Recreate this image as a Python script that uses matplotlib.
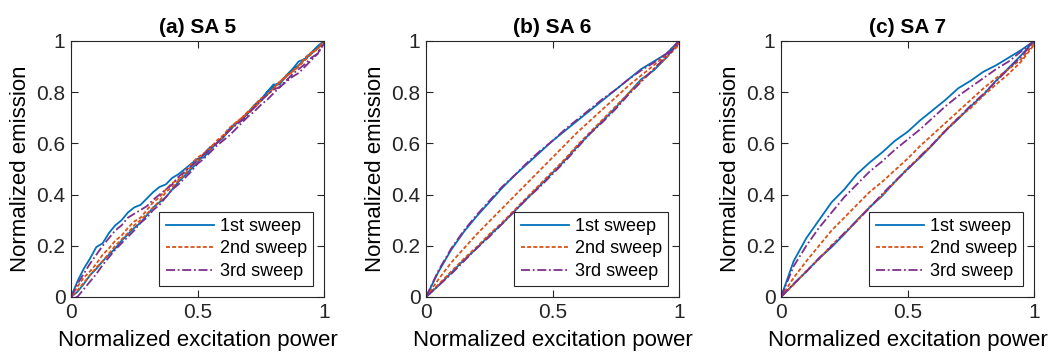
import matplotlib
matplotlib.use("Agg")
import matplotlib.pyplot as plt

plt.rcParams["font.family"] = ["Liberation Sans", "DejaVu Sans"]

titles = ["(a) SA 5", "(b) SA 6", "(c) SA 7"]
sweep_labels = ["1st sweep", "2nd sweep", "3rd sweep"]

# (a) SA 5 is noisy, read on a finer power grid
xa = [0.000, 0.025, 0.050, 0.075, 0.100, 0.125, 0.150, 0.175, 0.200, 0.225,
      0.250, 0.275, 0.300, 0.325, 0.350, 0.375, 0.400, 0.425, 0.450, 0.475,
      0.500, 0.525, 0.550, 0.575, 0.600, 0.625, 0.650, 0.675, 0.700, 0.725,
      0.750, 0.775, 0.800, 0.825, 0.850, 0.875, 0.900, 0.925, 0.950, 0.975, 1.000]
a1_up = [0.00, 0.06, 0.11, 0.15, 0.195, 0.21, 0.25, 0.28, 0.30, 0.33,
         0.35, 0.36, 0.385, 0.41, 0.43, 0.44, 0.465, 0.48, 0.50, 0.52,
         0.54, 0.545, 0.575, 0.60, 0.625, 0.65, 0.675, 0.69, 0.72, 0.75,
         0.77, 0.80, 0.83, 0.83, 0.865, 0.89, 0.92, 0.93, 0.955, 0.98, 1.00]
a1_dn = [0.00, 0.02, 0.05, 0.085, 0.11, 0.14, 0.165, 0.19, 0.22, 0.245,
         0.27, 0.29, 0.32, 0.35, 0.37, 0.39, 0.42, 0.45, 0.475, 0.50,
         0.525, 0.56, 0.585, 0.60, 0.62, 0.655, 0.68, 0.695, 0.72, 0.745,
         0.77, 0.80, 0.82, 0.84, 0.86, 0.885, 0.905, 0.93, 0.95, 0.975, 1.00]
a2_up = [0.00, 0.04, 0.075, 0.10, 0.13, 0.165, 0.19, 0.22, 0.24, 0.27,
         0.295, 0.31, 0.34, 0.37, 0.39, 0.42, 0.445, 0.46, 0.49, 0.52,
         0.545, 0.56, 0.58, 0.61, 0.63, 0.66, 0.68, 0.70, 0.72, 0.75,
         0.775, 0.79, 0.815, 0.84, 0.86, 0.88, 0.905, 0.935, 0.955, 0.97, 1.00]
a2_dn = [0.00, 0.025, 0.055, 0.085, 0.115, 0.14, 0.17, 0.20, 0.225, 0.25,
         0.28, 0.30, 0.325, 0.35, 0.375, 0.41, 0.43, 0.455, 0.48, 0.51,
         0.53, 0.56, 0.585, 0.60, 0.625, 0.65, 0.675, 0.70, 0.725, 0.74,
         0.765, 0.79, 0.81, 0.84, 0.865, 0.88, 0.90, 0.925, 0.95, 0.97, 0.995]
a3_up = [0.00, 0.05, 0.09, 0.13, 0.165, 0.20, 0.23, 0.26, 0.28, 0.31,
         0.325, 0.34, 0.355, 0.38, 0.40, 0.42, 0.44, 0.47, 0.49, 0.51,
         0.535, 0.555, 0.58, 0.60, 0.625, 0.65, 0.67, 0.69, 0.715, 0.74,
         0.765, 0.79, 0.81, 0.82, 0.845, 0.87, 0.89, 0.91, 0.935, 0.95, 0.99]
a3_dn = [0.00, 0.00, 0.03, 0.06, 0.09, 0.125, 0.155, 0.185, 0.21, 0.235,
         0.26, 0.29, 0.31, 0.34, 0.36, 0.39, 0.42, 0.44, 0.465, 0.49,
         0.52, 0.54, 0.565, 0.59, 0.61, 0.63, 0.655, 0.68, 0.705, 0.725,
         0.75, 0.77, 0.795, 0.82, 0.84, 0.86, 0.875, 0.90, 0.925, 0.95, 1.00]

# (b) SA 6 and (c) SA 7 are smoother
xbc = [0.00, 0.05, 0.10, 0.15, 0.20, 0.25, 0.30, 0.35, 0.40, 0.45, 0.50,
       0.55, 0.60, 0.65, 0.70, 0.75, 0.80, 0.85, 0.90, 0.95, 1.00]

b1_up = [0.00, 0.10, 0.185, 0.255, 0.315, 0.37, 0.425, 0.475, 0.52, 0.565, 0.61,
         0.65, 0.69, 0.73, 0.77, 0.81, 0.85, 0.89, 0.92, 0.95, 1.00]
b1_dn = [0.00, 0.045, 0.095, 0.145, 0.19, 0.24, 0.285, 0.335, 0.385, 0.435, 0.485,
         0.535, 0.59, 0.64, 0.69, 0.74, 0.795, 0.85, 0.885, 0.935, 1.00]
b2_up = [0.00, 0.07, 0.135, 0.19, 0.245, 0.295, 0.345, 0.395, 0.445, 0.495, 0.545,
         0.595, 0.645, 0.69, 0.735, 0.78, 0.825, 0.865, 0.905, 0.945, 0.99]
b2_dn = [0.00, 0.05, 0.10, 0.15, 0.195, 0.245, 0.29, 0.34, 0.39, 0.44, 0.49,
         0.54, 0.595, 0.645, 0.695, 0.745, 0.795, 0.845, 0.89, 0.935, 0.985]
b3_up = [0.00, 0.105, 0.19, 0.26, 0.32, 0.375, 0.43, 0.475, 0.525, 0.57, 0.61,
         0.655, 0.695, 0.735, 0.775, 0.81, 0.85, 0.885, 0.915, 0.95, 1.00]
b3_dn = [0.00, 0.045, 0.09, 0.14, 0.19, 0.235, 0.285, 0.335, 0.385, 0.43, 0.48,
         0.53, 0.585, 0.64, 0.685, 0.735, 0.79, 0.84, 0.89, 0.94, 0.99]

c1_up = [0.00, 0.14, 0.23, 0.30, 0.37, 0.42, 0.48, 0.525, 0.565, 0.61, 0.645,
         0.69, 0.73, 0.77, 0.815, 0.845, 0.88, 0.905, 0.935, 0.965, 1.00]
c1_dn = [0.00, 0.05, 0.10, 0.15, 0.195, 0.245, 0.30, 0.35, 0.395, 0.45, 0.50,
         0.545, 0.595, 0.65, 0.695, 0.745, 0.79, 0.845, 0.895, 0.945, 1.00]
c2_up = [0.00, 0.075, 0.14, 0.20, 0.26, 0.31, 0.36, 0.41, 0.45, 0.495, 0.54,
         0.59, 0.635, 0.68, 0.725, 0.77, 0.815, 0.855, 0.89, 0.93, 0.99]
c2_dn = [0.00, 0.048, 0.102, 0.148, 0.203, 0.247, 0.298, 0.352, 0.398, 0.448, 0.503,
         0.548, 0.597, 0.652, 0.70, 0.738, 0.787, 0.83, 0.872, 0.92, 0.985]
c3_up = [0.00, 0.12, 0.20, 0.27, 0.33, 0.39, 0.44, 0.49, 0.53, 0.575, 0.615,
         0.655, 0.70, 0.745, 0.785, 0.82, 0.855, 0.89, 0.92, 0.96, 1.00]
c3_dn = [0.00, 0.052, 0.098, 0.152, 0.198, 0.25, 0.297, 0.348, 0.402, 0.452, 0.498,
         0.55, 0.598, 0.648, 0.698, 0.748, 0.793, 0.842, 0.892, 0.94, 1.00]

panels = [
    (xa, [(a1_up, a1_dn), (a2_up, a2_dn), (a3_up, a3_dn)]),
    (xbc, [(b1_up, b1_dn), (b2_up, b2_dn), (b3_up, b3_dn)]),
    (xbc, [(c1_up, c1_dn), (c2_up, c2_dn), (c3_up, c3_dn)]),
]

colors = ["#0072BD", "#D95319", "#7E2F8E"]
dashes = [(), (2.2, 1.2), (5, 1.5, 1, 1.5)]
ax_left = [71, 426, 781]  # pixels
W, H = 1053, 358

fig = plt.figure(figsize=(W / 100, H / 100), dpi=100)

for i, (xg, sweeps) in enumerate(panels):
    ax = fig.add_axes([ax_left[i] / W, (H - 297) / H, 253 / W, 256 / H])
    for j, (up, dn) in enumerate(sweeps):
        # go up the power ramp then back down
        xs = xg + xg[::-1]
        ys = up + dn[::-1]
        line, = ax.plot(xs, ys, color=colors[j], lw=1.3, label=sweep_labels[j])
        if dashes[j]:
            line.set_dashes(dashes[j])
    ax.set_xlim(0, 1)
    ax.set_ylim(0, 1)
    ax.set_xticks([0, 0.5, 1])
    ax.set_xticklabels(["0", "0.5", "1"])
    ax.set_yticks([0, 0.2, 0.4, 0.6, 0.8, 1])
    ax.set_yticklabels(["0", "0.2", "0.4", "0.6", "0.8", "1"])
    ax.tick_params(direction="in", length=5, width=0.8, top=True, right=True,
                   labelsize=15, colors="#262626", pad=4)
    for sp in ax.spines.values():
        sp.set_color("#262626")
        sp.set_linewidth(0.8)
    ax.set_title(titles[i], fontsize=15, fontweight="bold", pad=6)
    ax.set_xlabel("Normalized excitation power", fontsize=16, labelpad=6)
    ax.set_ylabel("Normalized emission", fontsize=16, labelpad=4)
    leg = ax.legend(loc="lower right", fontsize=13, fancybox=False,
                    framealpha=1, edgecolor="#262626", handlelength=2.7,
                    borderaxespad=0.6, labelspacing=0.3, borderpad=0.35,
                    handletextpad=0.3)
    leg.get_frame().set_linewidth(0.8)

fig.savefig("out.png", dpi=100)
